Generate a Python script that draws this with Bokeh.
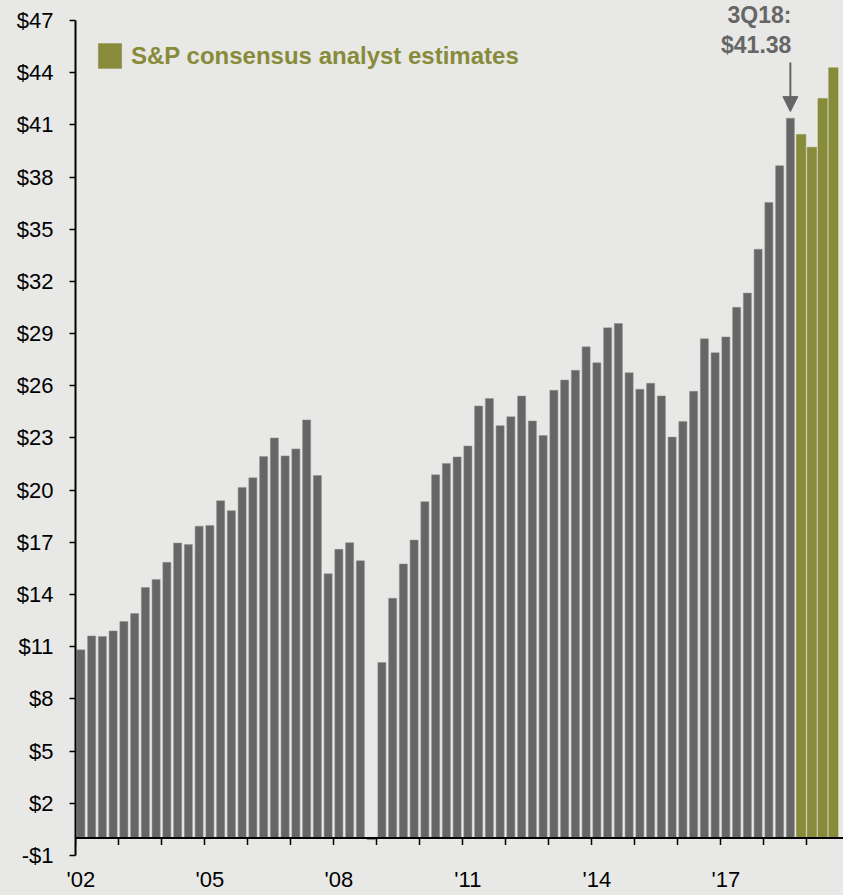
import numpy as np
from bokeh.plotting import figure
from bokeh.models import (ColumnDataSource, Range1d, FixedTicker, Span, Label,
                          Arrow, NormalHead, Legend, LegendItem)
from bokeh.embed import file_html
from bokeh.resources import INLINE

# ---------------- data ----------------
years = list(range(2002, 2020))
actual_eps = [
    10.82, 11.62, 11.59, 11.91,   # 2002
    12.45, 12.91, 14.40, 14.86,   # 2003
    15.85, 16.96, 16.87, 17.93,   # 2004
    17.97, 19.39, 18.82, 20.16,   # 2005
    20.71, 21.93, 23.00, 21.97,   # 2006
    22.37, 24.04, 20.84, 15.20,   # 2007
    16.60, 16.98, 15.94, -0.09,   # 2008
    10.10, 13.79, 15.76, 17.13,   # 2009
    19.34, 20.88, 21.54, 21.91,   # 2010
    22.54, 24.84, 25.27, 23.71,   # 2011
    24.22, 25.41, 23.98, 23.14,   # 2012
    25.74, 26.33, 26.89, 28.24,   # 2013
    27.32, 29.33, 29.58, 26.75,   # 2014
    25.80, 26.15, 25.42, 23.05,   # 2015
    23.95, 25.68, 28.70, 27.90,   # 2016
    28.81, 30.51, 31.33, 33.85,   # 2017
    36.54, 38.65, 41.38,          # 2018 (1Q-3Q)
]
estimate_eps = [40.44, 39.71, 42.52, 44.28]   # 4Q18 - 3Q19 consensus estimates
quarters = [f"{q}Q{y % 100:02d}" for y in years for q in range(1, 5)]

x_tick_years = [2002, 2005, 2008, 2011, 2014, 2017]
x_tick_labels = ["'02", "'05", "'08", "'11", "'14", "'17"]
y_ticks = list(range(-1, 48, 3))
y_tick_labels = ["-$1" if v < 0 else f"${v}" for v in y_ticks]

highlight_label = "3Q18"
highlight_value = 41.38
legend_text = "S&P consensus analyst estimates"

# ---------------- styles ----------------
BG = "#e8e8e6"
GRAY = "#666666"
OLIVE = "#878b3a"
FONT = "Liberation Sans"

n_act = len(actual_eps)
x_act = np.arange(n_act) + 0.5
x_est = np.arange(n_act, n_act + len(estimate_eps)) + 0.5

src_act = ColumnDataSource(dict(x=x_act, top=actual_eps, q=quarters[:n_act]))
src_est = ColumnDataSource(dict(x=x_est, top=estimate_eps,
                                q=quarters[n_act:n_act + len(estimate_eps)]))

px_per_unit = 17.43
y_end = 47 + 20 / px_per_unit
p = figure(frame_width=768, frame_height=855,
           x_range=Range1d(0, 768 / 10.75), y_range=Range1d(-1, y_end),
           output_backend="svg", toolbar_location=None,
           min_border_left=75, min_border_right=0, min_border_top=0,
           min_border_bottom=40,
           background_fill_color=BG, border_fill_color=BG)
p.outline_line_color = None
p.xgrid.visible = False
p.ygrid.visible = False

r_act = p.vbar(x="x", top="top", width=0.75, source=src_act,
               fill_color=GRAY, line_color="#8e8e8e", line_width=0.5)
r_est = p.vbar(x="x", top="top", width=0.87, source=src_est,
               fill_color=OLIVE, line_color=OLIVE, line_width=0.5)

# x axis line at zero and yearly ticks
p.add_layout(Span(location=0, dimension="width", line_color="black",
                  line_width=2))
year_pos = [4 * (y - years[0]) for y in years]
p.segment(x0=year_pos, y0=[0] * len(year_pos), x1=year_pos,
          y1=[-0.4] * len(year_pos), line_color="black", line_width=1.5)

# y axis
ya = p.yaxis[0]
ya.ticker = FixedTicker(ticks=y_ticks)
ya.major_label_overrides = {t: l for t, l in zip(y_ticks, y_tick_labels)}
ya.bounds = (-1, 47)
ya.axis_line_color = "black"
ya.axis_line_width = 2
ya.major_tick_line_color = "black"
ya.major_tick_line_width = 1.5
ya.major_tick_out = 6
ya.major_tick_in = 0
ya.minor_tick_line_color = None
ya.major_label_standoff = 16
ya.major_label_text_font = FONT
ya.major_label_text_font_size = "22px"
ya.major_label_text_color = "black"

# x axis labels
xa = p.xaxis[0]
x_tick_pos = [4 * (y - years[0]) + 0.5 for y in x_tick_years]
xa.ticker = FixedTicker(ticks=x_tick_pos)
xa.major_label_overrides = {t: l for t, l in zip(x_tick_pos, x_tick_labels)}
xa.axis_line_color = None
xa.major_tick_line_color = None
xa.minor_tick_line_color = None
xa.major_tick_out = 0
xa.major_tick_in = 0
xa.major_label_standoff = 11
xa.major_label_text_font = FONT
xa.major_label_text_font_size = "22px"
xa.major_label_text_color = "black"

# highlight annotation
hx = quarters.index(highlight_label) + 0.5
p.add_layout(Arrow(end=NormalHead(size=15, fill_color=GRAY, line_color=GRAY),
                   x_start=hx, y_start=highlight_value + 3.2,
                   x_end=hx, y_end=highlight_value + 0.38,
                   line_color=GRAY, line_width=2))
for txt, yy in [(f"{highlight_label}:", 46.91), (f"${highlight_value:.2f}", 45.19)]:
    p.add_layout(Label(x=hx, y=yy, x_offset=1, y_offset=7, text=txt,
                       text_align="right",
                       text_baseline="alphabetic", text_font=FONT,
                       text_font_size="23px", text_font_style="bold",
                       text_color=GRAY))

# legend
legend = Legend(items=[LegendItem(label=legend_text, renderers=[r_est])],
                location=(20, 784), orientation="vertical",
                glyph_width=29, glyph_height=31, label_standoff=7,
                label_text_font=FONT, label_text_font_size="24px",
                label_text_font_style="bold", label_text_color=OLIVE,
                background_fill_alpha=0, border_line_color=None,
                padding=0, margin=0, spacing=0)
p.add_layout(legend)

html = file_html(p, INLINE)
html = html.replace("</head>", f"<style>body{{background:{BG};}}</style></head>", 1)
open("out.html", "w").write(html)
